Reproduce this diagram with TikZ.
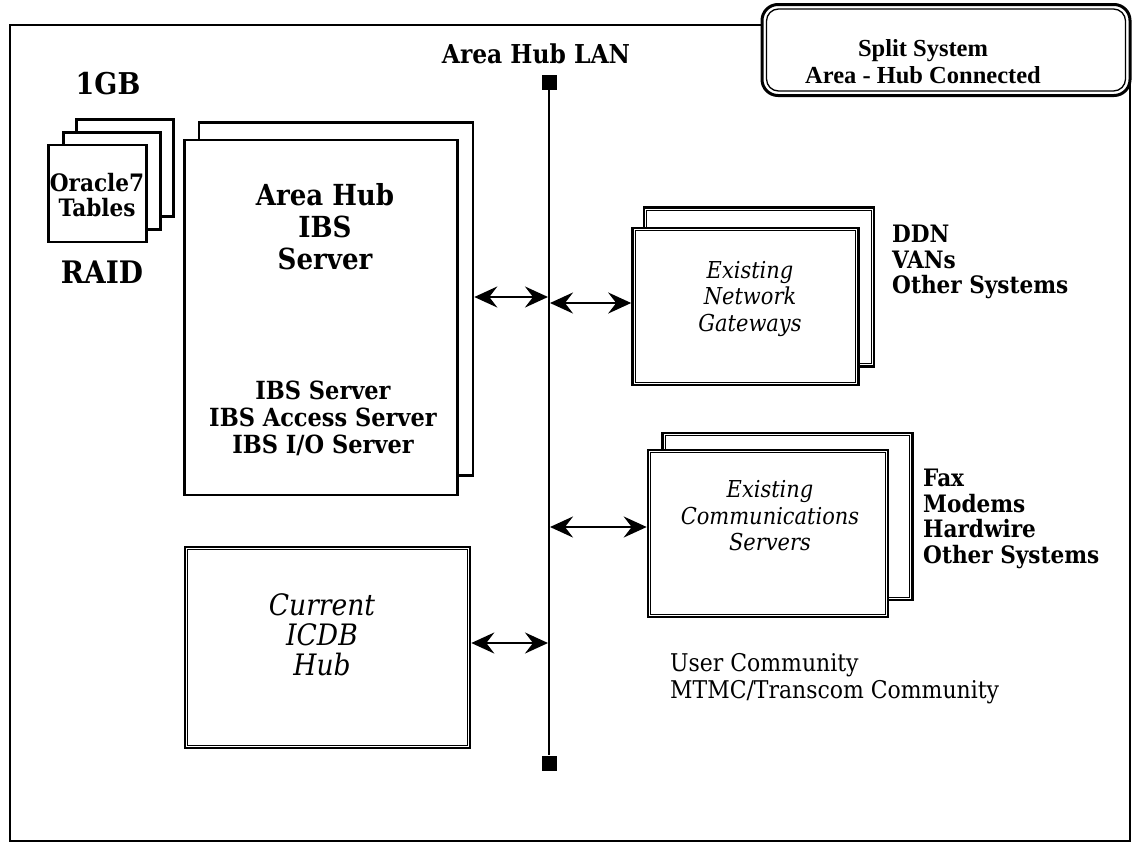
\documentclass[tikz,border=0pt]{standalone}
\usepackage{fontspec}
\setmainfont{DejaVu Serif Condensed}
\newfontfamily\titlefont{Liberation Serif}
\usetikzlibrary{arrows.meta,calc}

\tikzset{
  sheet/.style={draw, line width=2.6pt, fill=white, inner sep=0pt},
  inner/.style={draw, line width=1.3pt},
  txt/.style={inner sep=0pt, align=center},
  lbl/.style={inner sep=0pt, align=left, anchor=west},
  biarrow/.style={{Stealth[length=23pt,width=21pt,inset=8pt]}-{Stealth[length=23pt,width=21pt,inset=8pt]}, line width=2.4pt},
  lanbus/.style={line width=2pt},
  term/.style={fill=black, minimum size=15pt, inner sep=0pt},
}
\newcommand{\hdfont}{\bfseries\fontsize{29}{32}\selectfont}
\newcommand{\subfont}{\bfseries\fontsize{25}{27}\selectfont}
\newcommand{\lblfont}{\bfseries\fontsize{24}{25.5}\selectfont}
\newcommand{\itfont}{\itshape\fontsize{23.3}{26.5}\selectfont}

\begin{document}
\begin{tikzpicture}[x=1pt,y=-1pt]
\useasboundingbox (0,0) rectangle (1134,846);

% outer frame
\node[draw, line width=2.6pt, minimum width=1120pt, minimum height=816pt, inner sep=0pt] (frame) at (570,433) {};

% title box
\node[draw, line width=3pt, fill=white, rounded corners=16pt, minimum width=368pt, minimum height=91pt, inner sep=0pt] (title) at (946,50) {};
\draw[line width=1.3pt, rounded corners=12pt] ([xshift=6pt,yshift=-6pt]title.north west) rectangle ([xshift=-6pt,yshift=6pt]title.south east);
\node[txt, font=\titlefont\bfseries\fontsize{24.5}{27}\selectfont] (titletext) at (923,62) {Split System\\Area - Hub Connected};

% RAID stack
\node[sheet, minimum width=97pt, minimum height=97pt] (oraC) at (125,168) {};
\node[sheet, minimum width=97pt, minimum height=97pt] (oraB) at (112,181) {};
\node[sheet, minimum width=98pt, minimum height=97pt] (oraA) at (97.5,193.5) {};
\node[txt, font=\bfseries\fontsize{24}{25}\selectfont] (oratext) at (97,195) {Oracle7\\Tables};
\node[txt, font=\bfseries\fontsize{30}{30}\selectfont] (gb) at (108,84) {1GB};
\node[txt, font=\bfseries\fontsize{31}{30}\selectfont] (raid) at (102,272) {RAID};

% area hub server (two sheets)
\node[sheet, minimum width=274pt, minimum height=353pt] (ibsB) at (336,299) {};
\node[sheet, minimum width=273pt, minimum height=355pt] (ibsA) at (321,317.5) {};
\node[txt, font=\hdfont] (ibshead) at (325,227) {Area Hub\\IBS\\Server};
\node[txt, font=\subfont] (ibssub) at (323,418) {IBS Server\\IBS Access Server\\IBS I/O Server};

% network gateways (two double-lined sheets)
\node[sheet, minimum width=230pt, minimum height=159pt] (gwB) at (759,287) {};
\draw[inner] ([xshift=4pt,yshift=-4pt]gwB.north west) rectangle ([xshift=-4pt,yshift=4pt]gwB.south east);
\node[sheet, minimum width=226pt, minimum height=157pt] (gwA) at (745.5,306.5) {};
\draw[inner] ([xshift=4pt,yshift=-4pt]gwA.north west) rectangle ([xshift=-4pt,yshift=4pt]gwA.south east);
\node[txt, font=\itfont] (gwtext) at (750,299) {Existing\\Network\\Gateways};
\node[lbl, font=\lblfont] (gwlbl) at (892,262) {DDN\\VANs\\Other Systems};

% communications servers (two double-lined sheets)
\node[sheet, minimum width=250pt, minimum height=167pt] (csB) at (787.5,516.5) {};
\draw[inner] ([xshift=4pt,yshift=-4pt]csB.north west) rectangle ([xshift=-4pt,yshift=4pt]csB.south east);
\node[sheet, minimum width=240pt, minimum height=167pt] (csA) at (768,533.5) {};
\draw[inner] ([xshift=4pt,yshift=-4pt]csA.north west) rectangle ([xshift=-4pt,yshift=4pt]csA.south east);
\node[txt, font=\itfont] (cstext) at (770,516) {Existing\\Communications\\Servers};
\node[lbl, font=\lblfont] (cslbl) at (923,519) {Fax\\Modems\\Hardwire\\Other Systems};

% current ICDB hub
\node[sheet, minimum width=285pt, minimum height=201pt] (icdb) at (327.5,647.5) {};
\draw[inner] ([xshift=4pt,yshift=-4pt]icdb.north west) rectangle ([xshift=-4pt,yshift=4pt]icdb.south east);
\node[txt, font=\itshape\fontsize{29.5}{30}\selectfont] (icdbtext) at (322,635) {Current\\ICDB\\Hub};

% user community
\node[lbl, font=\fontsize{24.4}{27}\selectfont] (users) at (670,679) {User Community\\MTMC/Transcom Community};

% area hub LAN
\node[txt, font=\bfseries\fontsize{26}{25}\selectfont] (lanlbl) at (536,54) {Area Hub LAN};
\node[term] (lanT) at (549,82) {};
\node[term] (lanB) at (549,763) {};
\draw[lanbus] (lanT) -- (lanB);

% taps on the LAN
\coordinate (t1) at (548,297);
\coordinate (t2) at (550,303);
\coordinate (t3) at (550,527);
\coordinate (t4) at (548,643);
\draw[biarrow] (ibsB.east |- t1) -- (t1);
\draw[biarrow] (t2) -- (gwA.west |- t2);
\draw[biarrow] (t3) -- (csA.west |- t3);
\draw[biarrow] (icdb.east |- t4) -- (t4);
\end{tikzpicture}
\end{document}
